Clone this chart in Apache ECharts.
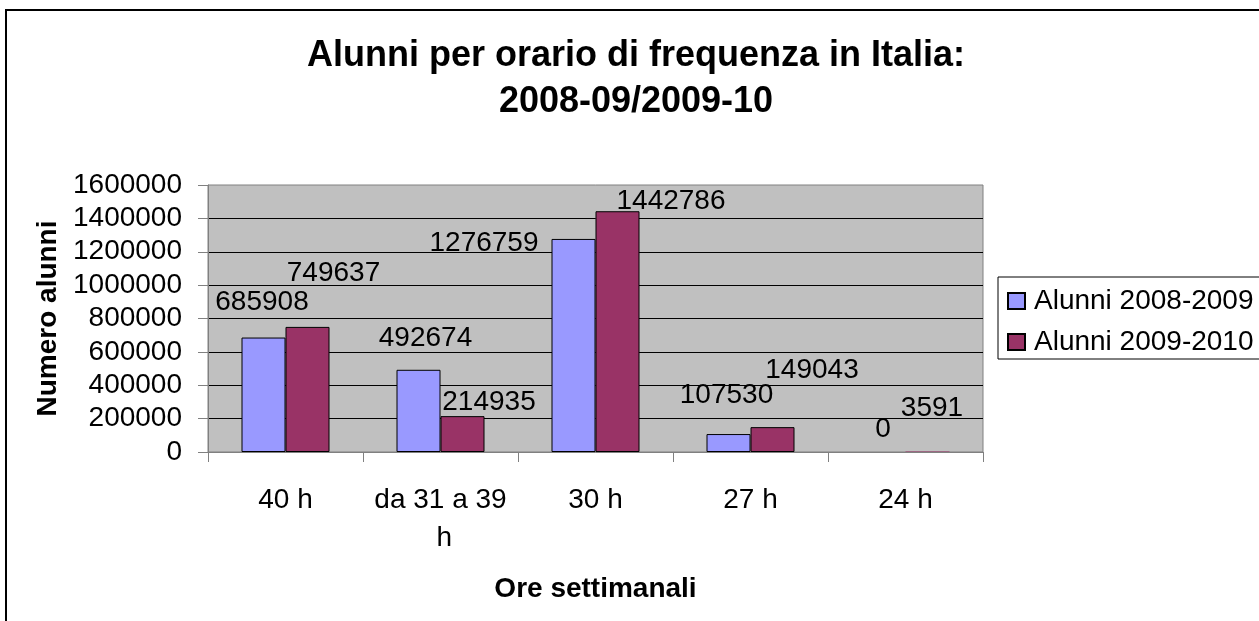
<!DOCTYPE html>
<html>
<head>
<meta charset="utf-8">
<script src="https://cdn.jsdelivr.net/npm/echarts@6/dist/echarts.min.js"></script>
<style>
  html, body { margin: 0; padding: 0; background: #fff; }
  #chart { width: 1259px; height: 621px; }
</style>
</head>
<body>
<div id="chart"></div>
<script>
const categories = ['40 h', 'da 31 a 39 h', '30 h', '27 h', '24 h'];
const seriesNames = ['Alunni 2008-2009', 'Alunni 2009-2010'];
const alunni2008 = [685908, 492674, 1276759, 107530, 0];
const alunni2009 = [749637, 214935, 1442786, 149043, 3591];
const yTicks = { min: 0, max: 1600000, interval: 200000 };

// label placement (pixel offsets from bar top), mimicking the original spreadsheet layout
const labelOffsets2008 = [[-1.5, -21.5], [7, -18], [-89.5, 18.8], [-2, -25], [-0.5, -8.7]];
const labelOffsets2009 = [[26, -39.2], [26.5, 0], [53.5, 4.3], [39.5, -43], [4.5, -29.4]];

const FONT = "'Liberation Sans', Arial, sans-serif";

function withLabels(values, offsets) {
  return values.map((v, i) => {
    const item = { value: v, label: { offset: offsets[i] } };
    // bars thinner than a pixel are invisible in the original (no outline)
    if (v < 10000) item.itemStyle = { borderWidth: 0 };
    return item;
  });
}

const chart = echarts.init(document.getElementById('chart'), null, { renderer: 'canvas' });
chart.setOption({
  animation: false,
  backgroundColor: '#ffffff',
  textStyle: { fontFamily: FONT },
  title: {
    text: 'Alunni per orario di frequenza in Italia:\n2008-09/2009-10',
    left: 636,
    textAlign: 'center',
    top: 33,
    padding: 0,
    textStyle: { fontFamily: FONT, fontSize: 36, fontWeight: 'bold', color: '#000', lineHeight: 46 }
  },
  graphic: [{
    type: 'rect',
    shape: { x: 6, y: 10, width: 1300, height: 700 },
    style: { fill: null, stroke: '#000', lineWidth: 2 },
    silent: true,
    z: 100
  }],
  legend: {
    orient: 'vertical',
    left: 998,
    top: 277,
    data: seriesNames,
    icon: 'rect',
    itemWidth: 17,
    itemHeight: 16,
    itemGap: 13,
    padding: [10, 20, 3, 9],
    borderColor: '#000',
    borderWidth: 1,
    backgroundColor: '#fff',
    textStyle: { fontFamily: FONT, fontSize: 28, color: '#000', lineHeight: 28, padding: [0, 0, 0, 4] }
  },
  grid: {
    left: 208, top: 185, width: 775, height: 267,
    show: true,
    backgroundColor: '#C0C0C0',
    borderColor: '#808080',
    borderWidth: 1,
    containLabel: false
  },
  xAxis: {
    type: 'category',
    data: categories,
    name: 'Ore settimanali',
    nameLocation: 'middle',
    nameGap: 123,
    nameTextStyle: { fontFamily: FONT, fontSize: 28, fontWeight: 'bold', color: '#000' },
    axisLine: { show: true, lineStyle: { color: '#808080', width: 1 } },
    axisTick: { show: true, alignWithLabel: false, interval: 0, length: 10, lineStyle: { color: '#808080' } },
    axisLabel: {
      interval: 0, margin: 29, fontFamily: FONT, fontSize: 28, color: '#000',
      lineHeight: 38, width: 140, overflow: 'break'
    },
    splitLine: { show: false }
  },
  yAxis: {
    type: 'value',
    min: yTicks.min, max: yTicks.max, interval: yTicks.interval,
    name: 'Numero alunni',
    nameLocation: 'middle',
    nameGap: 136,
    nameTextStyle: { fontFamily: FONT, fontSize: 28, fontWeight: 'bold', color: '#000' },
    axisLine: { show: true, lineStyle: { color: '#808080', width: 1 } },
    axisTick: { show: true, length: 10, lineStyle: { color: '#808080' } },
    axisLabel: { margin: 26, fontFamily: FONT, fontSize: 28, color: '#000', formatter: (v) => String(v) },
    splitLine: { show: true, showMinLine: false, showMaxLine: false, lineStyle: { color: '#000', width: 1 } }
  },
  series: [
    {
      name: seriesNames[0],
      type: 'bar',
      data: withLabels(alunni2008, labelOffsets2008),
      barWidth: 44,
      barGap: '0%',
      itemStyle: { color: '#9999FF', borderColor: '#000', borderWidth: 1 },
      label: { show: true, position: 'top', distance: 0, fontFamily: FONT, fontSize: 28, color: '#000', lineHeight: 28 }
    },
    {
      name: seriesNames[1],
      type: 'bar',
      data: withLabels(alunni2009, labelOffsets2009),
      barWidth: 44,
      barGap: '0%',
      itemStyle: { color: '#993366', borderColor: '#000', borderWidth: 1 },
      label: { show: true, position: 'top', distance: 0, fontFamily: FONT, fontSize: 28, color: '#000', lineHeight: 28 }
    }
  ]
});
</script>
</body>
</html>
